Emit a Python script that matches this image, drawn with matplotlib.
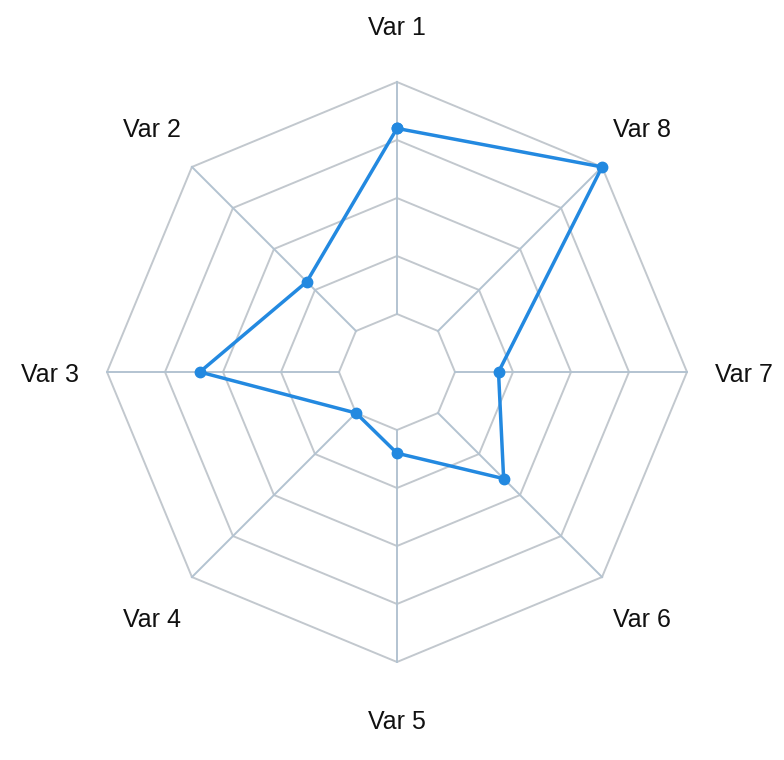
import matplotlib
matplotlib.use('Agg')
import matplotlib.pyplot as plt
import matplotlib.transforms as mtransforms
import numpy as np

# data
labels = ['Var 1', 'Var 2', 'Var 3', 'Var 4', 'Var 5', 'Var 6', 'Var 7', 'Var 8']
values = [4.2, 2.2, 3.4, 1.0, 1.4, 2.6, 1.75, 5.0]
rings = [1, 2, 3, 4, 5]

plt.rcParams['font.family'] = ['Liberation Sans', 'DejaVu Sans']

n = len(labels)
angles = np.arange(n) * 2 * np.pi / n
closed = np.append(angles, angles[0])

fig = plt.figure(figsize=(7.84, 7.6), dpi=100)
ax = fig.add_axes([107 / 784, 98 / 760, 580 / 784, 580 / 760], projection='polar')
ax.set_theta_offset(np.pi / 2)
ax.set_theta_direction(1)
ax.set_ylim(0, 5)
ax.grid(False)
ax.spines['polar'].set_visible(False)
ax.set_xticks([])
ax.set_yticks([])
ax.patch.set_alpha(0)

# octagon rings
for r in rings:
    ax.plot(closed, [r] * (n + 1), color='#c2c8ce', lw=1.4, zorder=1, clip_on=False)

# spokes from inner ring to outer ring
for a in angles:
    ax.plot([a, a], [rings[0], rings[-1]], color='#b3c3d1', lw=1.4, zorder=1, clip_on=False)

# series
vals = values + values[:1]
ax.plot(closed, vals, color='#2389e0', lw=2.5, marker='o', markersize=7.5,
        zorder=3, clip_on=False)

# axis labels
shift = mtransforms.offset_copy(ax.transData, fig=fig, y=-3, units='dots')
for a, lab in zip(angles, labels):
    ax.text(a, 5.98, lab, ha='center', va='center', fontsize=18, color='#111111',
            clip_on=False, transform=shift)

fig.savefig('out.png', dpi=100)
